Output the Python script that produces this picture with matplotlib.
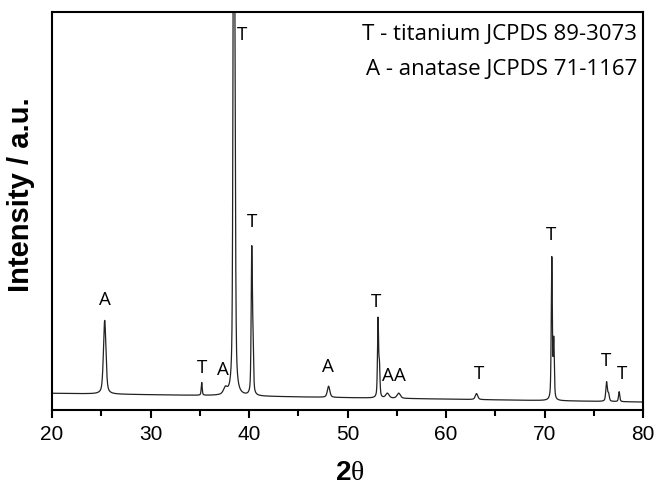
import numpy as np
import matplotlib.pyplot as plt

plt.rcParams["mathtext.fontset"] = "custom"
plt.rcParams["mathtext.rm"] = "Liberation Serif"
plt.rcParams["mathtext.bf"] = "Liberation Sans:bold"

# peak list: position (2theta), height above background, FWHM
peak_pos = [25.35, 35.20, 37.60, 38.45, 38.56, 40.28, 40.40, 48.08, 53.10, 53.24,
            54.05, 55.20, 63.10, 70.74, 70.94, 76.30, 76.50, 77.58]
peak_height = [185, 32, 16, 1500, 600, 355, 110, 28, 195, 75,
               12, 13, 15, 355, 145, 48, 18, 25]
peak_width = [0.30, 0.12, 0.45, 0.16, 0.16, 0.14, 0.14, 0.30, 0.13, 0.13,
              0.40, 0.40, 0.30, 0.13, 0.13, 0.18, 0.18, 0.15]

# background level at the two ends
bg_start, bg_end = 42.0, 20.0

# peak labels: phase letter, x and y position (bottom of the letter)
label_text = ["A", "T", "A", "T", "T", "A", "T", "A", "A", "T", "T", "T", "T"]
label_x = [25.4, 35.2, 37.4, 39.3, 40.3, 48.0, 52.9, 54.1, 55.3, 63.4, 70.7, 76.2, 77.9]
label_y = [255, 83, 78, 920, 450, 86, 250, 62, 62, 68, 418, 100, 68]

legend_lines = ["T - titanium JCPDS 89-3073", "A - anatase JCPDS 71-1167"]

x = np.linspace(20, 80, 6001)
y = bg_start + (bg_end - bg_start) * (x - 20) / 60
for p, h, w in zip(peak_pos, peak_height, peak_width):
    y += h / (1 + ((x - p) / (w / 2)) ** 2) * 0.5 + h * 0.5 * np.exp(-4 * np.log(2) * ((x - p) / w) ** 2)

fig = plt.figure(figsize=(6.58, 4.90), dpi=100)
ax = fig.add_axes([52 / 658, 80 / 490, 591 / 658, 398 / 490])
ax.plot(x, y, color="#222222", lw=0.9)

ax.set_xlim(20, 80)
ax.set_ylim(0, 1000)
ax.set_xticks(range(20, 81, 10))
ax.set_xticks(range(25, 80, 10), minor=True)
ax.set_yticks([])
ax.tick_params(axis="x", which="major", direction="out", length=6, width=1.5,
               labelsize=15, pad=5)
ax.tick_params(axis="x", which="minor", direction="out", length=4, width=1.5)
for lab in ax.get_xticklabels():
    lab.set_family("Liberation Sans")
for s in ax.spines.values():
    s.set_linewidth(1.5)

for t, lx, ly in zip(label_text, label_x, label_y):
    ax.text(lx, ly, t, ha="center", va="bottom", fontsize=13.5, family="Open Sans")

ax.text(0.99, 0.97, legend_lines[0], transform=ax.transAxes, ha="right", va="top",
        fontsize=16, family="Open Sans")
ax.text(0.99, 0.882, legend_lines[1], transform=ax.transAxes, ha="right", va="top",
        fontsize=16, family="Open Sans")

ax.set_ylabel("Intensity / a.u.", fontsize=21, fontweight="bold", family="Liberation Sans")
ax.yaxis.set_label_coords(-0.029, 0.54)
ax.set_xlabel(r"$\mathbf{2}\mathrm{\theta}$", fontsize=20)
ax.xaxis.set_label_coords(0.504, -0.12)

fig.savefig("out.png", dpi=100)
